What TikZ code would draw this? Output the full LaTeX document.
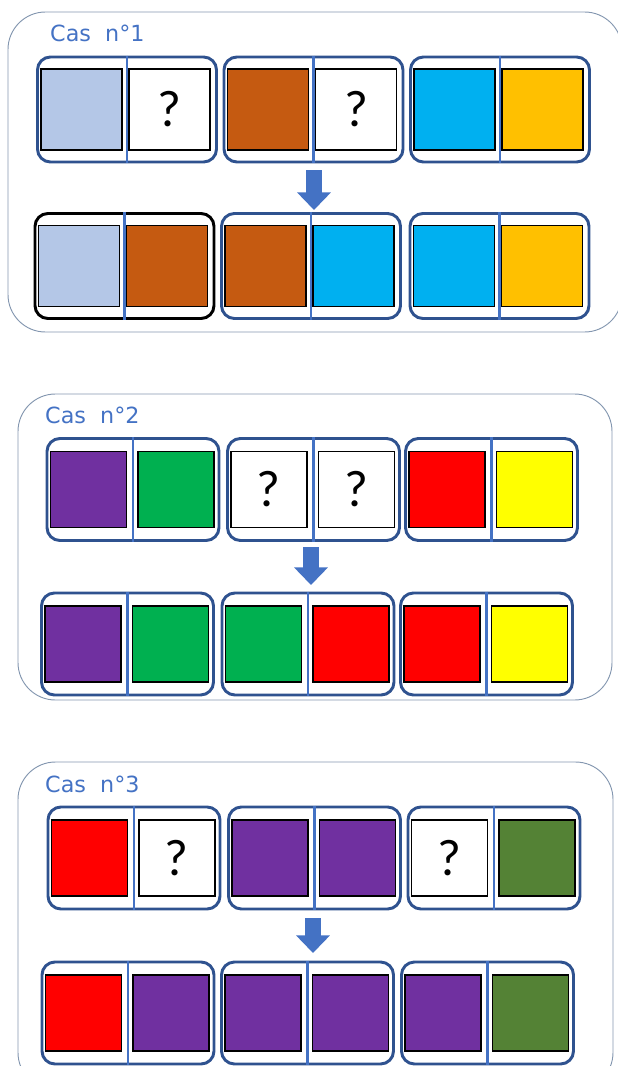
\documentclass[tikz,border=0pt]{standalone}
\usepackage{fontspec}
\setmainfont{Carlito}
\newfontfamily\titrefont{DejaVu Sans}
\usepackage{tikz}
\usetikzlibrary{positioning,arrows.meta}
\definecolor{domtrait}{RGB}{47,82,143}
\definecolor{sepbleu}{RGB}{68,114,196}
\definecolor{cadregris}{RGB}{132,151,176}
\definecolor{bleuclair}{RGB}{180,199,231}
\definecolor{brique}{RGB}{197,90,17}
\definecolor{cyanvif}{RGB}{0,176,240}
\definecolor{ambre}{RGB}{255,192,0}
\definecolor{violet}{RGB}{112,48,160}
\definecolor{vertvif}{RGB}{0,176,80}
\definecolor{rouge}{RGB}{255,0,0}
\definecolor{jaune}{RGB}{255,255,0}
\definecolor{vertfonce}{RGB}{84,130,53}

\begin{document}
\begin{tikzpicture}[x=0.03cm, y=-0.03cm,
  cadre/.style={draw=cadregris, line width=0.8pt, rounded corners=32pt},
  titre/.style={anchor=base west, inner sep=0pt, text=sepbleu,
    font=\titrefont\fontsize{19}{19}\selectfont},
  domino/.style={draw=domtrait, line width=2.5pt, rounded corners=11pt,
    minimum width=5.37cm, minimum height=3.15cm, inner sep=0pt},
  petit/.style={minimum width=5.16cm, minimum height=3.06cm},
  carre/.style={draw=black, line width=1.3pt, minimum size=2.43cm, inner sep=0pt,
    fill=white, font=\fontsize{44}{44}\selectfont},
  mini/.style={minimum size=2.28cm},
  sep/.style={sepbleu, line width=1.8pt},
  fleche/.style={-{Triangle[width=28pt,length=15pt]}, line width=13pt, sepbleu}
]
  \useasboundingbox (0,0) rectangle (617,1066);

  \draw[cadre] (8,12) rectangle (622,332);
  \node[titre] (t1) at (50,42) {Cas\ \ n°1};

  \node[domino] (d1h1) at (127,109.5) {};
  \node[domino] (d1h2) at (313.5,109.5) {};
  \node[domino] (d1h3) at (500,109.5) {};
  \node[domino, draw=black] (d1b1) at (124.5,266) {};
  \node[domino] (d1b2) at (311,266) {};
  \node[domino] (d1b3) at (499.5,266) {};
  \node[carre, fill=bleuclair, right=3.4pt of d1h1.west] (c1h1g) {};
  \node[carre, left=6pt of d1h1.east] (c1h1d) {?};
  \node[carre, fill=brique, right=3.4pt of d1h2.west] (c1h2g) {};
  \node[carre, left=6pt of d1h2.east] (c1h2d) {?};
  \node[carre, fill=cyanvif, right=3.4pt of d1h3.west] (c1h3g) {};
  \node[carre, fill=ambre, left=6pt of d1h3.east] (c1h3d) {};
  \node[carre, fill=bleuclair, right=3.4pt of d1b1.west] (c1b1g) {};
  \node[carre, fill=brique, left=6pt of d1b1.east] (c1b1d) {};
  \node[carre, fill=brique, right=3.4pt of d1b2.west] (c1b2g) {};
  \node[carre, fill=cyanvif, left=6pt of d1b2.east] (c1b2d) {};
  \node[carre, fill=cyanvif, right=3.4pt of d1b3.west] (c1b3g) {};
  \node[carre, fill=ambre, left=6pt of d1b3.east] (c1b3d) {};
  \draw[sep] (d1h1.north) -- (d1h1.south);
  \draw[sep] (d1h2.north) -- (d1h2.south);
  \draw[sep] (d1h3.north) -- (d1h3.south);
  \draw[sep] (d1b1.north) -- (d1b1.south);
  \draw[sep] (d1b2.north) -- (d1b2.south);
  \draw[sep] (d1b3.north) -- (d1b3.south);
  \coordinate (f1a) at (314,170);
  \coordinate (f1b) at (314,210);
  \draw[fleche] (f1a) -- (f1b);

  \draw[cadre] (18,394) rectangle (612,700);
  \node[titre] (t2) at (45,423) {Cas\ \ n°2};

  \node[domino, petit] (d2h1) at (133,489.5) {};
  \node[domino, petit] (d2h2) at (313.5,489.5) {};
  \node[domino, petit] (d2h3) at (491.5,489.5) {};
  \node[domino, petit] (d2b1) at (127.5,644) {};
  \node[domino, petit] (d2b2) at (308,644) {};
  \node[domino, petit] (d2b3) at (486.5,644) {};
  \node[carre, mini, fill=violet, right=3.4pt of d2h1.west] (c2h1g) {};
  \node[carre, mini, fill=vertvif, left=5pt of d2h1.east] (c2h1d) {};
  \node[carre, mini, right=3.4pt of d2h2.west] (c2h2g) {?};
  \node[carre, mini, left=5pt of d2h2.east] (c2h2d) {?};
  \node[carre, mini, fill=rouge, right=3.4pt of d2h3.west] (c2h3g) {};
  \node[carre, mini, fill=jaune, left=5pt of d2h3.east] (c2h3d) {};
  \node[carre, mini, fill=violet, right=3.4pt of d2b1.west] (c2b1g) {};
  \node[carre, mini, fill=vertvif, left=5pt of d2b1.east] (c2b1d) {};
  \node[carre, mini, fill=vertvif, right=3.4pt of d2b2.west] (c2b2g) {};
  \node[carre, mini, fill=rouge, left=5pt of d2b2.east] (c2b2d) {};
  \node[carre, mini, fill=rouge, right=3.4pt of d2b3.west] (c2b3g) {};
  \node[carre, mini, fill=jaune, left=5pt of d2b3.east] (c2b3d) {};
  \draw[sep] (d2h1.north) -- (d2h1.south);
  \draw[sep] (d2h2.north) -- (d2h2.south);
  \draw[sep] (d2h3.north) -- (d2h3.south);
  \draw[sep] (d2b1.north) -- (d2b1.south);
  \draw[sep] (d2b2.north) -- (d2b2.south);
  \draw[sep] (d2b3.north) -- (d2b3.south);
  \coordinate (f2a) at (311,547);
  \coordinate (f2b) at (311,585);
  \draw[fleche] (f2a) -- (f2b);

  \draw[cadre] (18,762) rectangle (613,1090);
  \node[titre] (t3) at (45,792) {Cas\ \ n°3};

  \node[domino, petit] (d3h1) at (134,858) {};
  \node[domino, petit] (d3h2) at (314.5,858) {};
  \node[domino, petit] (d3h3) at (494,858) {};
  \node[domino, petit] (d3b1) at (128,1013) {};
  \node[domino, petit] (d3b2) at (307.5,1013) {};
  \node[domino, petit] (d3b3) at (487.5,1013) {};
  \node[carre, mini, fill=rouge, right=3.4pt of d3h1.west] (c3h1g) {};
  \node[carre, mini, left=5pt of d3h1.east] (c3h1d) {?};
  \node[carre, mini, fill=violet, right=3.4pt of d3h2.west] (c3h2g) {};
  \node[carre, mini, fill=violet, left=5pt of d3h2.east] (c3h2d) {};
  \node[carre, mini, right=3.4pt of d3h3.west] (c3h3g) {?};
  \node[carre, mini, fill=vertfonce, left=5pt of d3h3.east] (c3h3d) {};
  \node[carre, mini, fill=rouge, right=3.4pt of d3b1.west] (c3b1g) {};
  \node[carre, mini, fill=violet, left=5pt of d3b1.east] (c3b1d) {};
  \node[carre, mini, fill=violet, right=3.4pt of d3b2.west] (c3b2g) {};
  \node[carre, mini, fill=violet, left=5pt of d3b2.east] (c3b2d) {};
  \node[carre, mini, fill=violet, right=3.4pt of d3b3.west] (c3b3g) {};
  \node[carre, mini, fill=vertfonce, left=5pt of d3b3.east] (c3b3d) {};
  \draw[sep] (d3h1.north) -- (d3h1.south);
  \draw[sep] (d3h2.north) -- (d3h2.south);
  \draw[sep] (d3h3.north) -- (d3h3.south);
  \draw[sep] (d3b1.north) -- (d3b1.south);
  \draw[sep] (d3b2.north) -- (d3b2.south);
  \draw[sep] (d3b3.north) -- (d3b3.south);
  \coordinate (f3a) at (313,918);
  \coordinate (f3b) at (313,953);
  \draw[fleche] (f3a) -- (f3b);
\end{tikzpicture}
\end{document}
